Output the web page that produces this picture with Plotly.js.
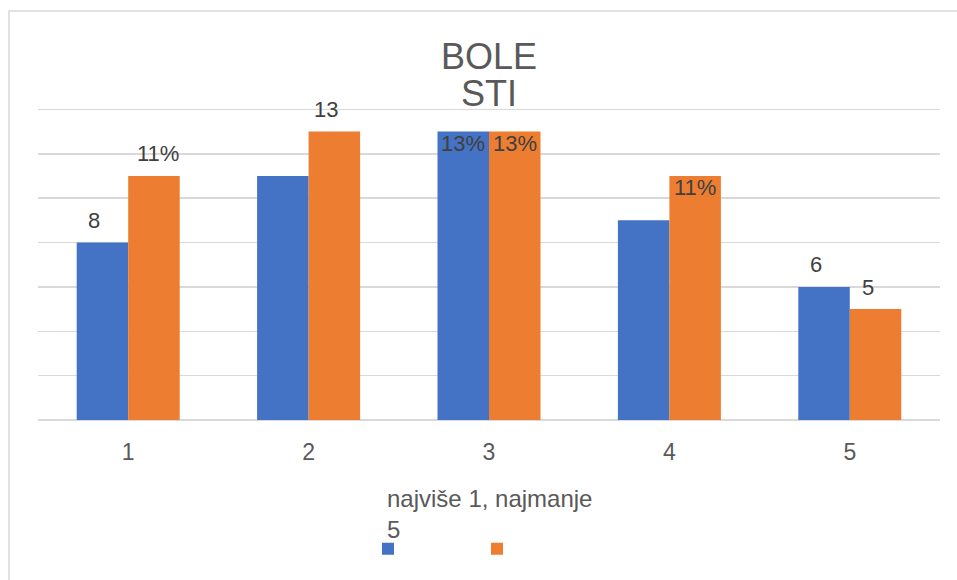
<!DOCTYPE html>
<html>
<head>
<meta charset="utf-8">
<script src="https://cdn.plot.ly/plotly-3.0.1.min.js"></script>
<style>html,body{margin:0;padding:0;background:#fff;}#chart{width:957px;height:580px;}</style>
</head>
<body>
<div id="chart"></div>
<script>
const categories = ['1', '2', '3', '4', '5'];
const blueValues = [8, 11, 13, 9, 6];
const orangeValues = [11, 13, 13, 11, 5];
const blueLabels = ['8', '', '13%', '', '6'];
const orangeLabels = ['11%', '13', '13%', '11%', '5'];
const blueLabelPos = ['out', '', 'in', '', 'out'];
const orangeLabelPos = ['out', 'out', 'in', 'in', 'out'];
const legendTitleText = 'najviše 1, najmanje<br>5';
const titleLine1 = 'BOLE';
const titleLine2 = 'STI';

const FONT = '"Liberation Sans", Arial, sans-serif';
const BLUE = '#4472C4';
const ORANGE = '#ED7D31';
const BAR_HALF = 25.75;
const Y_MAX = 14.2;
const PLOT_L = 38, PLOT_W = 902, PLOT_B = 420, PLOT_H = 311 * Y_MAX / 14;
const px2x = p => (p - PLOT_L) / PLOT_W;
const px2y = p => (PLOT_B - p) / PLOT_H;

const traces = [
  {type: 'bar', x: categories, y: blueValues, name: ' ', marker: {color: BLUE}, hoverinfo: 'none'},
  {type: 'bar', x: categories, y: orangeValues, name: ' ', marker: {color: ORANGE}, hoverinfo: 'none'}
];

const annotations = [];
function addLabels(values, labels, pos, side) {
  for (let i = 0; i < categories.length; i++) {
    if (!labels[i]) continue;
    const isOut = pos[i] === 'out';
    let xs = side * BAR_HALF;
    if (isOut) xs += labels[i].indexOf('%') >= 0 ? 4 : -8;
    annotations.push({
      x: i, y: values[i], xref: 'x', yref: 'y',
      text: labels[i], showarrow: false,
      xanchor: 'center', yanchor: 'middle',
      xshift: xs, yshift: isOut ? 22 : -12,
      font: {family: FONT, size: 22, color: '#404040'}
    });
  }
}
addLabels(blueValues, blueLabels, blueLabelPos, -1);
addLabels(orangeValues, orangeLabels, orangeLabelPos, 1);

annotations.push({
  x: 0.5, y: px2y(93), xref: 'paper', yref: 'paper', text: titleLine2,
  showarrow: false, xanchor: 'center', yanchor: 'middle', height: 26,
  font: {family: FONT, size: 36, color: '#595959'}
});
// legend title (wrapped text)
annotations.push({
  x: px2x(386), y: px2y(484), xref: 'paper', yref: 'paper', text: legendTitleText,
  showarrow: false, xanchor: 'left', yanchor: 'top', align: 'left', borderpad: 0,
  font: {family: FONT, size: 24, color: '#595959'}
});

const layout = {
  width: 957, height: 580,
  margin: {l: 38, r: 17, t: PLOT_B - PLOT_H, b: 160, pad: 0},
  paper_bgcolor: '#ffffff', plot_bgcolor: '#ffffff',
  font: {family: FONT, color: '#595959'},
  title: {
    text: titleLine1, x: 0.5, xref: 'paper', xanchor: 'center',
    y: 1 - 56 / 580, yref: 'container', yanchor: 'middle',
    font: {family: FONT, size: 36, color: '#595959'}
  },
  barmode: 'group', bargap: 0.429, bargroupgap: 0,
  xaxis: {
    type: 'category', range: [-0.5, 4.5], showgrid: false, zeroline: false, showline: false,
    ticks: '', ticklabelstandoff: 16,
    tickfont: {family: FONT, size: 23, color: '#595959'}
  },
  yaxis: {
    range: [0, Y_MAX], dtick: 2, showticklabels: false, ticks: '',
    showgrid: true, gridcolor: '#d9d9d9', gridwidth: 1.5,
    zeroline: true, zerolinecolor: '#d9d9d9', zerolinewidth: 1.5, showline: false
  },
  showlegend: true,
  legend: {
    orientation: 'h', x: px2x(368), xanchor: 'left', y: px2y(549), yanchor: 'middle',
    entrywidth: 64, entrywidthmode: 'pixels',
    font: {family: FONT, size: 16, color: '#595959'},
    bgcolor: 'rgba(0,0,0,0)'
  },
  annotations: annotations,
  shapes: [{
    type: 'rect', xref: 'paper', yref: 'paper',
    x0: px2x(9), x1: px2x(970),
    y0: px2y(600), y1: px2y(10.5),
    line: {color: '#d9d9d9', width: 1.5}, fillcolor: 'rgba(0,0,0,0)', layer: 'below'
  }]
};

Plotly.newPlot('chart', traces, layout, {staticPlot: true, displayModeBar: false});
</script>
</body>
</html>
